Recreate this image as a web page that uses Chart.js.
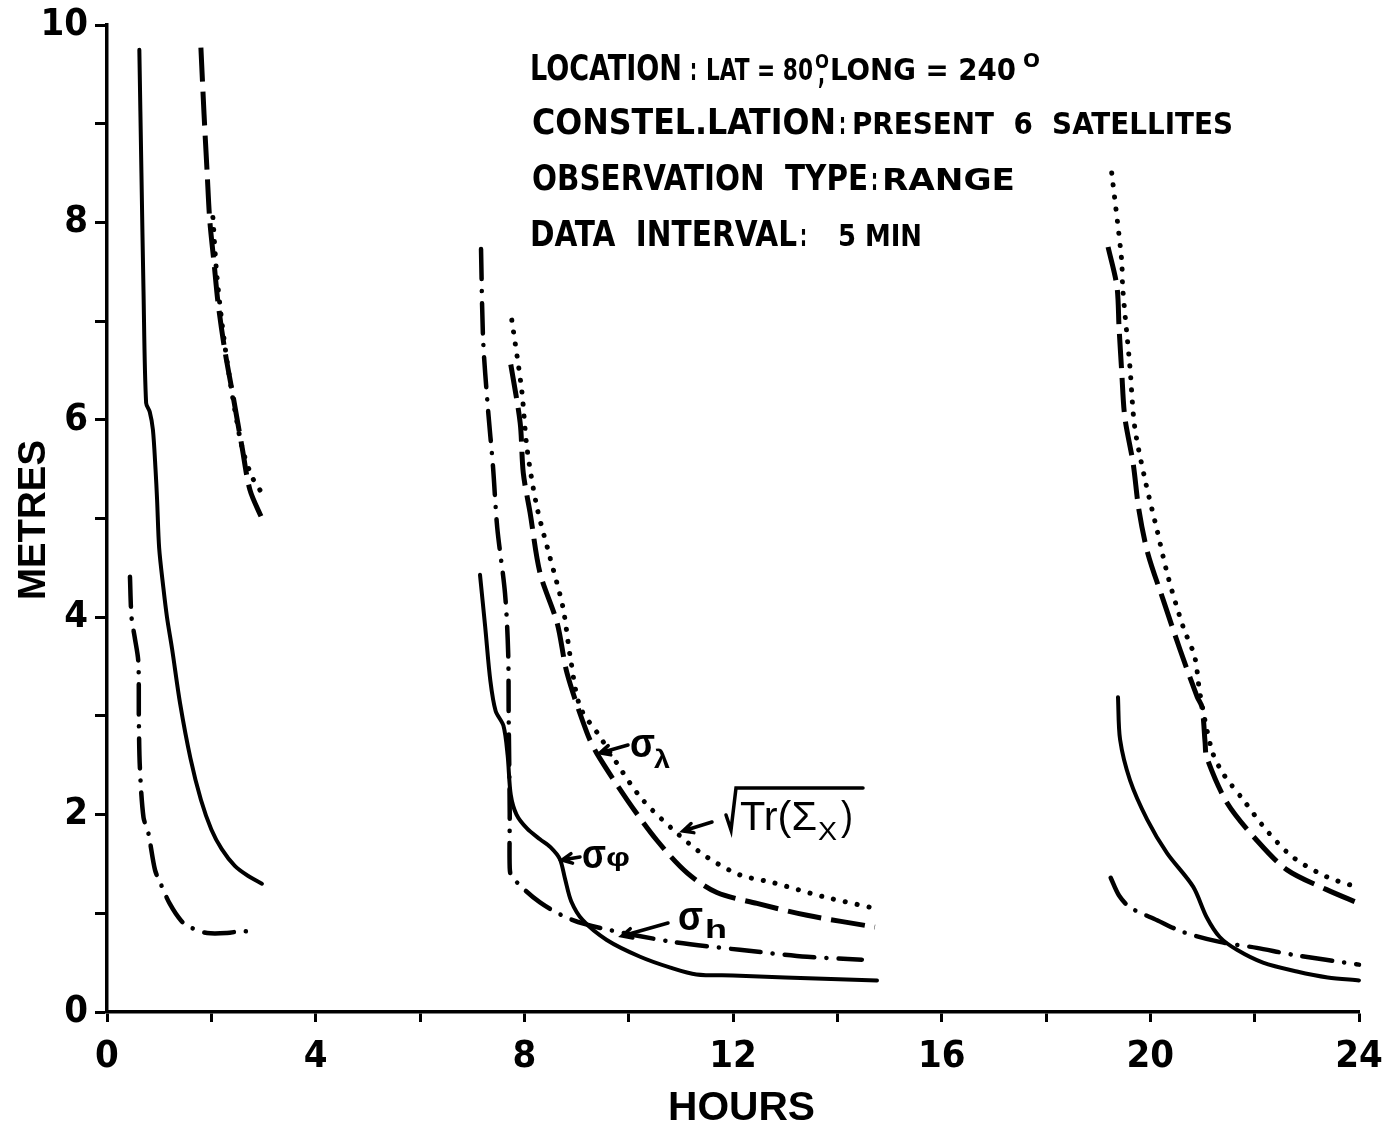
<!DOCTYPE html>
<html>
<head>
<meta charset="utf-8">
<script src="https://cdn.jsdelivr.net/npm/chart.js@4"></script>
<style>
  html, body { margin: 0; padding: 0; background: #fff; }
  #wrap { width: 1383px; height: 1125px; }
</style>
</head>
<body>
<div id="wrap"><canvas id="c" width="1383" height="1125"></canvas></div>
<script>
// hours / metres, null separates the three passes
var PHI_HOURS = [0.62,0.66,0.70,0.75,0.82,0.88,0.93,0.96,1.00,1.08,1.15,1.25,1.40,1.60,1.80,2.00,2.20,2.45,2.70,2.97, null,
  7.15,7.25,7.35,7.45,7.60,7.68,7.74,7.85,8.05,8.30,8.50,8.68,8.78,8.90,9.12,9.58,10.22,10.80,11.30,12.00,13.00,14.76, null,
  19.38,19.42,19.61,19.94,20.32,20.82,21.08,21.33,21.66,22.16,22.81,23.40,24.00];
var PHI_METRES = [9.75,8.50,7.30,6.17,6.08,5.90,5.50,5.19,4.70,4.30,4.00,3.67,3.13,2.57,2.15,1.85,1.65,1.48,1.38,1.30, null,
  4.43,3.90,3.35,3.05,2.90,2.60,2.20,2.00,1.86,1.75,1.67,1.55,1.35,1.12,0.93,0.73,0.56,0.45,0.38,0.37,0.35,0.32, null,
  3.19,2.76,2.35,1.95,1.61,1.27,0.96,0.76,0.63,0.50,0.41,0.35,0.32];

var LAMBDA_HOURS = [1.80,1.86,1.92,1.97,2.05,2.13,2.26,2.42,2.59,2.74,2.97, null,
  7.74,7.92,7.98,8.11,8.30,8.63,8.82,9.20,9.39,9.97,10.54,11.12,11.69,12.46,13.42,14.72, null,
  19.19,19.36,19.40,19.45,19.51,19.67,19.78,19.95,20.25,20.57,20.90,20.99,21.05,21.08,21.47,22.04,22.62,23.38,24.00];
var LAMBDA_METRES = [9.77,9.10,8.50,8.02,7.60,7.18,6.70,6.23,5.72,5.29,5.00, null,
  6.56,5.97,5.46,5.06,4.45,3.94,3.43,2.83,2.62,2.15,1.74,1.41,1.21,1.10,0.98,0.86, null,
  7.75,7.35,6.94,6.50,6.03,5.56,5.09,4.65,4.17,3.67,3.19,3.09,2.73,2.58,2.12,1.74,1.44,1.24,1.10];

var H_HOURS = [0.44,0.47,0.53,0.60,0.61,0.63,0.70,0.79,0.92,1.02,1.20,1.43,1.63,1.92,2.30,2.60,2.84, null,
  7.17,7.21,7.30,7.40,7.48,7.63,7.69,7.70,7.72,7.72,7.76,8.30,8.93,9.64,10.85,12.13,13.42,14.47, null,
  19.24,19.40,19.61,20.13,20.63,21.33,22.04,22.73,24.00];
var H_METRES = [4.41,4.00,3.80,3.55,2.99,2.48,1.97,1.82,1.44,1.31,1.10,0.92,0.85,0.80,0.80,0.82,0.80, null,
  7.73,6.81,6.13,5.52,4.91,4.24,3.64,2.99,2.02,1.46,1.37,1.11,0.93,0.83,0.71,0.63,0.56,0.53, null,
  1.36,1.18,1.06,0.93,0.81,0.71,0.65,0.58,0.48];

var TR_HOURS = [2.03,2.10,2.20,2.30,2.45,2.60,2.80,3.05, null,
  7.76,7.95,8.05,8.24,8.49,8.74,8.88,9.07,9.45,9.58,10.22,10.93,11.50,12.13,12.77,13.72,14.72, null,
  19.26,19.45,19.47,19.61,19.70,19.90,20.13,20.34,20.63,20.85,20.95,21.18,21.39,21.78,22.23,22.73,23.38,24.00];
var TR_METRES = [8.05,7.50,7.00,6.60,6.10,5.70,5.40,5.20, null,
  7.01,6.30,5.72,5.12,4.61,4.10,3.60,3.09,2.79,2.68,2.18,1.81,1.57,1.39,1.31,1.17,1.05, null,
  8.50,7.62,7.34,6.53,5.93,5.39,4.88,4.41,3.90,3.60,3.23,2.65,2.42,2.15,1.84,1.57,1.37,1.26];

var X_TICK_STEP = 2, X_LABEL_STEP = 4;
var Y_TICK_STEP = 1, Y_LABEL_STEP = 2;

var NARROW = '"Liberation Sans Narrow", "DejaVu Sans Condensed", "Liberation Sans", sans-serif';
var SANS = '"Liberation Sans", Arial, sans-serif';

function segments(hs, ms) {
  var out = [], cur = [];
  hs.forEach(function(h, i) {
    if (h === null) { out.push(cur); cur = []; }
    else cur.push({x: h, y: ms[i]});
  });
  out.push(cur);
  return out;
}

var datasets = [];
function addSeries(name, hs, ms, style) {
  segments(hs, ms).forEach(function(seg) {
    datasets.push(Object.assign({
      label: name, data: seg, borderColor: '#000', backgroundColor: '#000',
      pointRadius: 0, fill: false, tension: 0.3, clip: false, borderJoinStyle: 'round'
    }, style));
  });
}
addSeries('sigma_phi', PHI_HOURS, PHI_METRES, {borderWidth: 4, borderCapStyle: 'round'});
addSeries('sigma_lambda', LAMBDA_HOURS, LAMBDA_METRES, {borderWidth: 5, borderDash: [34, 10], borderCapStyle: 'butt'});
addSeries('sigma_h', H_HOURS, H_METRES, {borderWidth: 4.5, borderDash: [30, 12, 0.1, 12], borderCapStyle: 'round'});
addSeries('sqrt_tr', TR_HOURS, TR_METRES, {borderWidth: 5, borderDash: [0.1, 12], borderCapStyle: 'round'});

// text stretched to fit between x1 and x2
function fitText(ctx, txt, x1, x2, base, font) {
  ctx.font = font;
  var w = ctx.measureText(txt).width;
  ctx.save();
  ctx.translate(x1, base);
  ctx.scale((x2 - x1) / w, 1);
  ctx.fillText(txt, 0, 0);
  ctx.restore();
}
function arrow(ctx, x1, y1, x2, y2) {
  var a = Math.atan2(y2 - y1, x2 - x1), L = 11, s = 0.45;
  ctx.beginPath();
  ctx.moveTo(x1, y1); ctx.lineTo(x2, y2);
  ctx.moveTo(x2 - L * Math.cos(a - s), y2 - L * Math.sin(a - s));
  ctx.lineTo(x2, y2);
  ctx.lineTo(x2 - L * Math.cos(a + s), y2 - L * Math.sin(a + s));
  ctx.stroke();
}

var notes = {
  id: 'notes',
  afterDraw: function(chart) {
    var ctx = chart.ctx;
    ctx.save();
    ctx.fillStyle = '#000';
    ctx.strokeStyle = '#000';
    ctx.textBaseline = 'alphabetic';
    ctx.textAlign = 'left';

    // info block
    var big = 'bold 35px ' + NARROW, mid = 'bold 31px ' + NARROW, sm = 'bold 19px ' + NARROW;
    fitText(ctx, 'LOCATION', 530, 682, 80, big);
    fitText(ctx, ':', 690, 697, 80, mid);
    fitText(ctx, 'LAT = 80', 706, 813, 80, mid);
    fitText(ctx, 'O', 815, 829, 68, sm);
    fitText(ctx, ',', 818, 825, 84, mid);
    fitText(ctx, 'LONG = 240', 830, 1016, 80, mid);
    fitText(ctx, 'O', 1023, 1040, 67, sm);

    fitText(ctx, 'CONSTEL.LATION', 532, 836, 134, big);
    fitText(ctx, ':', 839, 846, 134, mid);
    fitText(ctx, 'PRESENT  6  SATELLITES', 852, 1233, 134, mid);

    fitText(ctx, 'OBSERVATION  TYPE', 532, 868, 190, big);
    fitText(ctx, ':', 871, 878, 190, mid);
    fitText(ctx, 'RANGE', 882, 1015, 190, mid);

    fitText(ctx, 'DATA  INTERVAL', 530, 797, 246, big);
    fitText(ctx, ':', 800, 807, 246, mid);
    fitText(ctx, '5 MIN', 838, 922, 246, mid);

    // axis titles
    fitText(ctx, 'HOURS', 668, 815, 1120, 'bold 40px ' + SANS);
    ctx.save();
    ctx.translate(45, 0);
    ctx.rotate(-Math.PI / 2);
    fitText(ctx, 'METRES', -600, -440, 0, 'bold 38px ' + SANS);
    ctx.restore();

    // curve labels
    var sig = 'bold 40px ' + SANS, sub = 'bold 26px ' + SANS;
    ctx.lineWidth = 3.5;
    ctx.lineCap = 'round';
    fitText(ctx, '\u03c3', 630, 655, 757, sig);
    fitText(ctx, '\u03bb', 654, 670, 768, sub);
    arrow(ctx, 628, 745, 600, 753);

    fitText(ctx, '\u03c3', 582, 606, 868, sig);
    fitText(ctx, '\u03c6', 606, 630, 866, sub);
    arrow(ctx, 580, 857, 562, 860);

    fitText(ctx, '\u03c3', 678, 703, 930, sig);
    fitText(ctx, 'h', 705, 727, 938, sub);
    arrow(ctx, 668, 923, 622, 936);

    ctx.beginPath();
    ctx.moveTo(726, 815); ctx.lineTo(731, 830); ctx.lineTo(736, 788); ctx.lineTo(863, 788);
    ctx.stroke();
    fitText(ctx, 'Tr(\u03a3', 740, 817, 830, '40px ' + SANS);
    fitText(ctx, 'X', 818, 837, 840, '26px ' + SANS);
    fitText(ctx, ')', 841, 853, 830, '40px ' + SANS);
    arrow(ctx, 712, 822, 683, 831);
    ctx.restore();
  }
};

var tickFont = {family: NARROW, size: 38, weight: 'bold'};

new Chart(document.getElementById('c'), {
  type: 'line',
  data: { datasets: datasets },
  options: {
    responsive: false,
    animation: false,
    devicePixelRatio: 1,
    layout: { padding: { left: 0, right: 24, top: 25, bottom: 0 } },
    plugins: { legend: { display: false }, tooltip: { enabled: false } },
    scales: {
      x: {
        type: 'linear', min: 0, max: 24,
        afterFit: function(s) { s.height = 113; s.paddingLeft = 0; s.paddingRight = 0; },
        border: { color: '#000', width: 3.5 },
        grid: { drawOnChartArea: false, tickLength: 10, tickWidth: 3, tickColor: '#000' },
        ticks: {
          stepSize: X_TICK_STEP, autoSkip: false, maxRotation: 0, padding: 12,
          color: '#000', font: tickFont,
          callback: function(v) { return v % X_LABEL_STEP === 0 ? v : ''; }
        }
      },
      y: {
        type: 'linear', min: 0, max: 10,
        afterFit: function(s) { s.width = 107; s.paddingTop = 0; s.paddingBottom = 0; },
        border: { color: '#000', width: 3.5 },
        grid: { drawOnChartArea: false, tickLength: 12, tickWidth: 3, tickColor: '#000' },
        ticks: {
          stepSize: Y_TICK_STEP, autoSkip: false, padding: 7,
          color: '#000', font: tickFont,
          callback: function(v) { return v % Y_LABEL_STEP === 0 ? v : ''; }
        }
      }
    }
  },
  plugins: [notes]
});
</script>
</body>
</html>
